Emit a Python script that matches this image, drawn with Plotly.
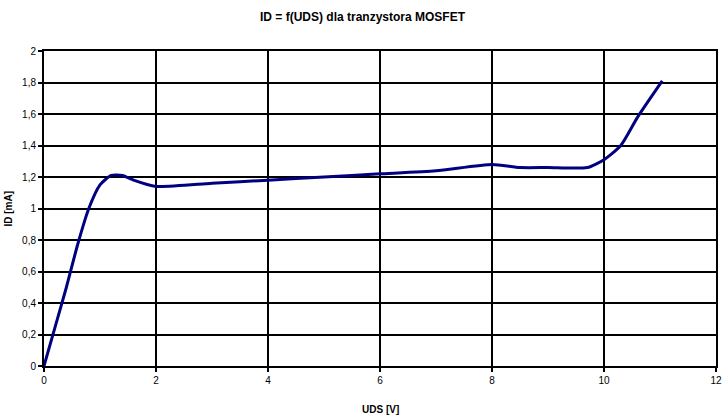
import plotly.graph_objects as go

# UDS [V] and ID [mA]
uds = [0, 0.2, 0.4, 0.6, 0.8, 1.0, 1.2, 1.4, 1.6, 2.0, 3, 4, 5, 6, 7, 8, 8.5, 9, 9.7, 10, 10.3, 10.6, 11.04]
id_ma = [0, 0.25, 0.5, 0.77, 1.0, 1.15, 1.21, 1.21, 1.18, 1.14, 1.16, 1.18, 1.20, 1.22, 1.24, 1.28,
         1.26, 1.26, 1.26, 1.31, 1.40, 1.58, 1.81]

x_ticks = [0, 2, 4, 6, 8, 10, 12]
y_ticks = [0, 0.2, 0.4, 0.6, 0.8, 1, 1.2, 1.4, 1.6, 1.8, 2]

line = go.Scatter(x=uds, y=id_ma, mode='lines', line=dict(color='#000080', width=3, shape='spline', smoothing=0.6),
                  showlegend=False, hoverinfo='x+y')
fig = go.Figure([line])

fig.update_layout(
    width=725, height=417,
    margin=dict(l=44, r=9, t=51, b=51, autoexpand=False),
    paper_bgcolor='white', plot_bgcolor='white',
    separators=', ',
    font=dict(family='Liberation Sans, Arial, sans-serif', size=10, color='black'),
    title=dict(text='<b>ID = f(UDS) dla tranzystora MOSFET</b>', x=0.5, xanchor='center',
               y=1 - 17 / 417, yanchor='middle', font=dict(size=12), automargin=False),
    annotations=[
        dict(text='<b>UDS [V]</b>', xref='paper', yref='paper', x=0.5, y=-43 / 315,
             xanchor='center', yanchor='middle', showarrow=False, font=dict(size=10)),
        dict(text='<b>ID [mA]</b>', xref='paper', yref='paper', x=-36 / 672, y=0.5, textangle=-90,
             xanchor='center', yanchor='middle', showarrow=False, font=dict(size=10)),
    ],
)

fig.update_xaxes(range=[0, 12], tickvals=x_ticks, showgrid=True, gridcolor='black', gridwidth=2,
                 showline=True, linecolor='black', linewidth=2, mirror=True, automargin=False,
                 ticks='outside', ticklen=4, tickwidth=2, tickcolor='black', zeroline=False)
fig.update_yaxes(range=[0, 2], tickvals=y_ticks, showgrid=True, gridcolor='black', gridwidth=2,
                 showline=True, linecolor='black', linewidth=2, mirror=True, automargin=False,
                 ticks='outside', ticklen=4, tickwidth=2, tickcolor='black', zeroline=False)

# strona ma domyslnie margines 8px - zerujemy, zeby wykres zajal cale okno
fig.write_html("out.html", config={'displayModeBar': False},
               post_script="document.body.style.margin='0';")
